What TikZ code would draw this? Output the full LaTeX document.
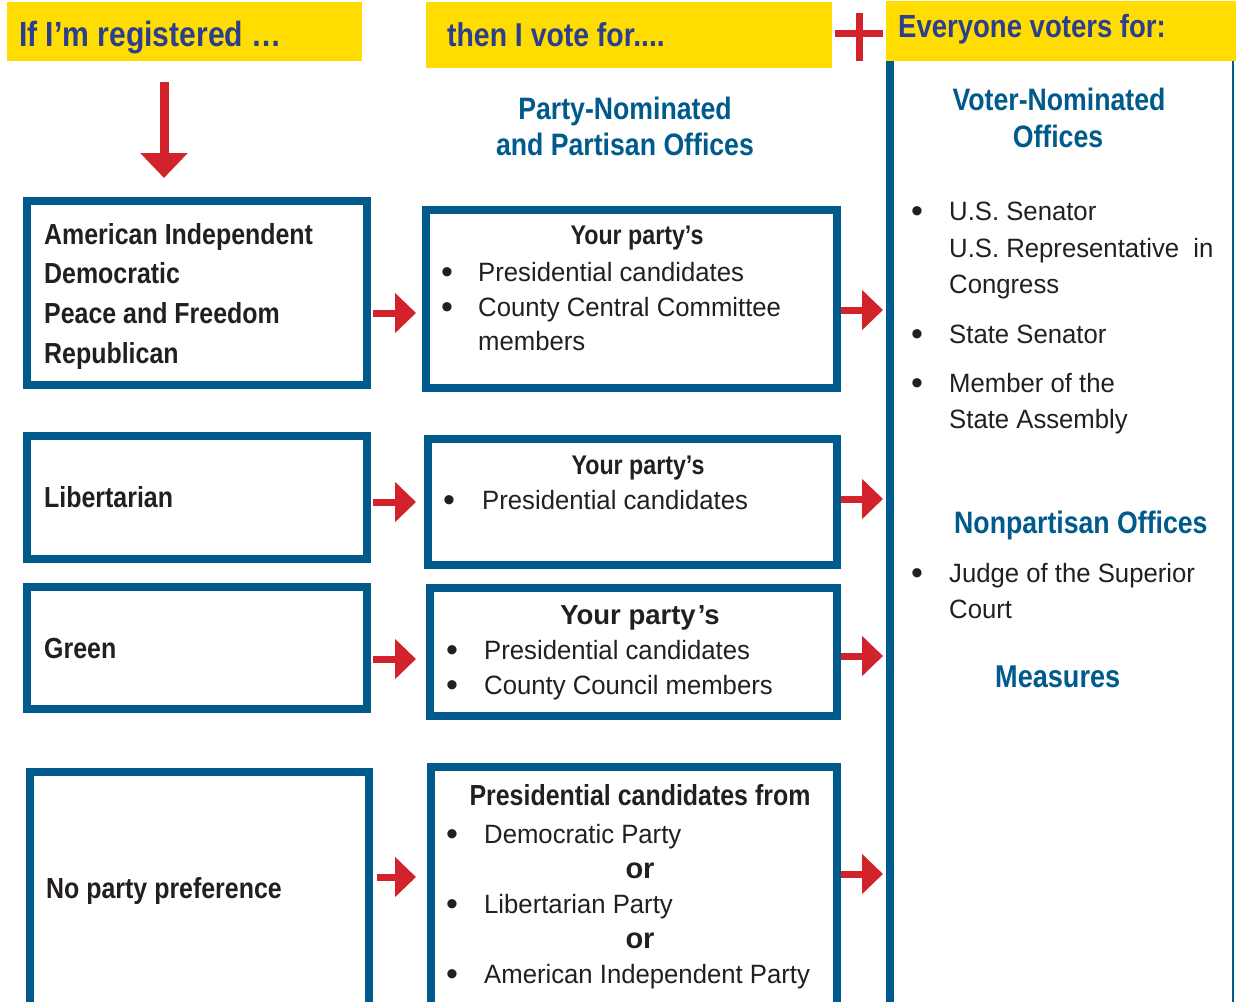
\documentclass[tikz,border=0pt]{standalone}
\usepackage{fontspec}
\setmainfont{Liberation Sans}
\newfontfamily\condf{Liberation Sans}[FakeStretch=0.86]
\newfontfamily\regf{Liberation Sans}[FakeStretch=0.97]
\usetikzlibrary{arrows.meta}
\definecolor{ybar}{HTML}{FFDD00}
\definecolor{navy}{HTML}{2B3F8C}
\definecolor{pblue}{HTML}{005A8C}
\definecolor{rred}{HTML}{D2232D}
\definecolor{ink}{HTML}{231F20}
\begin{document}
\begin{tikzpicture}[x=1pt,y=-1pt,
  bar/.style={fill=ybar,draw=none,inner sep=0pt,outer sep=0pt},
  htxt/.style={anchor=base west,inner sep=0pt,text=navy},
  hd/.style={anchor=base,inner sep=0pt,text=pblue,font=\condf\bfseries\fontsize{31}{36}\selectfont},
  hdw/.style={hd,anchor=base west},
  pbox/.style={draw=pblue,line width=8pt,inner sep=0pt},
  btxt/.style={anchor=base west,inner sep=0pt,text=ink,font=\condf\bfseries\fontsize{29}{34}\selectfont},
  rtxt/.style={anchor=base west,inner sep=0pt,text=ink,font=\regf\fontsize{26.5}{30}\selectfont},
  bul/.style={anchor=base west,inner sep=0pt,text=ink,font=\fontsize{34}{36}\selectfont,yshift=-2.5pt},
  ptxt/.style={anchor=base,inner sep=0pt,text=ink,font=\condf\bfseries\fontsize{27}{30}\selectfont},
  ortxt/.style={anchor=base,inner sep=0pt,text=ink,font=\bfseries\fontsize{29}{32}\selectfont},
  redarr/.style={draw=rred,line width=7pt,-{Triangle[length=21pt,width=39pt]}},
]
\useasboundingbox (0,0) rectangle (1236,1001);
\clip (0,0) rectangle (1236,1001);

% header bars
\node[bar,minimum width=355pt,minimum height=59pt] (h1) at (184.5,31.5) {};
\node[bar,minimum width=406pt,minimum height=66pt] (h2) at (629,35) {};
\node[bar,minimum width=350pt,minimum height=60pt] (h3) at (1061,31) {};
\node[htxt,font=\condf\bfseries\fontsize{35}{40}\selectfont] (t1) at (19,46) {If I’m registered …};
\node[htxt,font=\condf\bfseries\fontsize{33}{38}\selectfont] (t2) at (447,46) {then I vote for....};
\node[htxt,font=\condf\bfseries\fontsize{32}{37}\selectfont] (t3) at (898,37) {Everyone voters for:};

% plus sign
\draw[rred,line width=7pt] (859,13) -- (859,61);
\draw[rred,line width=7pt] (835,33) -- (883,33);

% right panel
\node[inner sep=0pt,outer sep=0pt,minimum width=349pt,minimum height=949pt] (R) at (1060.5,535.5) {};
\draw[pblue,line width=8pt] ([xshift=4pt]R.north west) -- ([xshift=4pt]R.south west);
\draw[pblue,line width=2.5pt] ([xshift=-2pt]R.north east) -- ([xshift=-2pt]R.south east);

% column headings
\node[hd] (ph1) at (625,119) {Party-Nominated};
\node[hd] (ph2) at (625,155) {and Partisan Offices};
\node[hd] (vh1) at (1059,110) {Voter-Nominated};
\node[hd] (vh2) at (1058,147) {Offices};
\node[hdw] (nh) at (954,533) {Nonpartisan Offices};
\node[hdw,font=\condf\bfseries\fontsize{31.5}{36}\selectfont] (mh) at (995,687) {Measures};

% left boxes
\node[pbox,minimum width=340pt,minimum height=184pt] (A) at (197,293) {};
\node[pbox,minimum width=340pt,minimum height=123pt] (B) at (197,497.5) {};
\node[pbox,minimum width=340pt,minimum height=122pt] (C) at (197,648) {};
\node[pbox,minimum width=339pt,minimum height=258pt] (D) at (199.5,901) {};

\node[btxt] (a1) at (44,244) {American Independent};
\node[btxt] (a2) at (44,283) {Democratic};
\node[btxt] (a3) at (44,323) {Peace and Freedom};
\node[btxt] (a4) at (44,363) {Republican};
\node[btxt] (b1) at (44,507) {Libertarian};
\node[btxt] (c1) at (44,658) {Green};
\node[btxt] (d1) at (46,898) {No party preference};

% middle boxes
\node[pbox,minimum width=411pt,minimum height=178pt] (E) at (631.5,299) {};
\node[pbox,minimum width=409pt,minimum height=126pt] (F) at (632.5,502) {};
\node[pbox,minimum width=407pt,minimum height=128pt] (G) at (633.5,652) {};
\node[pbox,minimum width=406pt,minimum height=263pt] (H) at (634,898.5) {};

\node[ptxt] (e0) at (637,244) {Your party’s};
\node[bul] (eb1) at (441,281) {•};
\node[rtxt] (e1) at (478,281) {Presidential candidates};
\node[bul] (eb2) at (441,316) {•};
\node[rtxt] (e2) at (478,316) {County Central Committee};
\node[rtxt] (e3) at (478,350) {members};

\node[ptxt] (f0) at (638,474) {Your party’s};
\node[bul] (fb1) at (443,509) {•};
\node[rtxt] (f1) at (482,509) {Presidential candidates};

\node[ptxt,font=\bfseries\fontsize{27.5}{30}\selectfont] (g0) at (640,624) {Your party\kern2pt’s};
\node[bul] (gb1) at (446,659) {•};
\node[rtxt] (g1) at (484,659) {Presidential candidates};
\node[bul] (gb2) at (446,694) {•};
\node[rtxt] (g2) at (484,694) {County Council members};

\node[ptxt,font=\condf\bfseries\fontsize{29}{32}\selectfont] (h0) at (640,805) {Presidential candidates from};
\node[bul] (hb1) at (446,843) {•};
\node[rtxt] (hx1) at (484,843) {Democratic Party};
\node[ortxt] (or1) at (640,878) {or};
\node[bul] (hb2) at (446,913) {•};
\node[rtxt] (hx2) at (484,913) {Libertarian Party};
\node[ortxt] (or2) at (640,948) {or};
\node[bul] (hb3) at (446,983) {•};
\node[rtxt] (hx3) at (484,983) {American Independent Party};

% right panel lists
\node[bul] (rb1) at (911,220) {•};
\node[rtxt] (r1) at (949,220) {U.S. Senator};
\node[rtxt] (r2) at (949,257) {U.S. Representative\ \ in};
\node[rtxt] (r3) at (949,293) {Congress};
\node[bul] (rb2) at (911,343) {•};
\node[rtxt] (r4) at (949,343) {State Senator};
\node[bul] (rb3) at (911,392) {•};
\node[rtxt] (r5) at (949,392) {Member of the};
\node[rtxt] (r6) at (949,428) {State Assembly};
\node[bul] (rb4) at (911,582) {•};
\node[rtxt] (r7) at (949,582) {Judge of the Superior};
\node[rtxt] (r8) at (949,618) {Court};

% arrows
\draw[draw=rred,line width=9pt,-{Triangle[length=25pt,width=46pt]},shorten <=21pt,shorten >=19pt]
  ([xshift=-20.5pt]h1.south) -- ([xshift=-33pt]A.north);
\draw[redarr,shorten <=2pt,shorten >=6pt] (A.east |- 0,313) -- (E.west |- 0,313);
\draw[redarr,shorten <=2pt,shorten >=8pt] (B.east |- 0,502) -- (F.west |- 0,502);
\draw[redarr,shorten <=2pt,shorten >=10pt] (C.east |- 0,659) -- (G.west |- 0,659);
\draw[redarr,shorten <=4pt,shorten >=11pt] (D.east |- 0,877) -- (H.west |- 0,877);
\draw[redarr,shorten >=3pt] (E.east |- 0,310) -- (R.west |- 0,310);
\draw[redarr,shorten >=3pt] (F.east |- 0,499) -- (R.west |- 0,499);
\draw[redarr,shorten >=3pt] (G.east |- 0,656) -- (R.west |- 0,656);
\draw[redarr,shorten >=3pt] (H.east |- 0,874) -- (R.west |- 0,874);
\end{tikzpicture}
\end{document}
